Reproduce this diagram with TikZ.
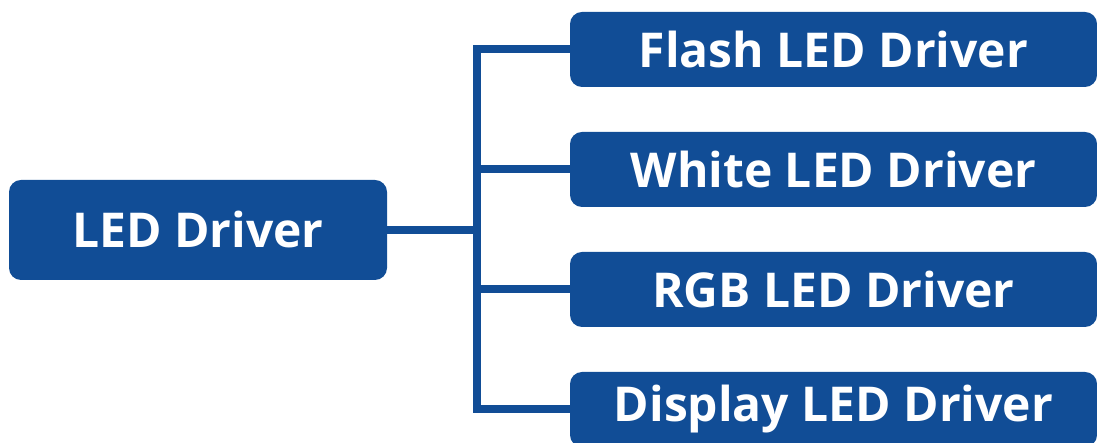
\documentclass[tikz,border=0pt]{standalone}
\usepackage{fontspec}
\setmainfont{Open Sans}
\definecolor{ledblue}{RGB}{17,77,150}
\begin{document}
\begin{tikzpicture}[x=1pt,y=1pt,
  box/.style={fill=ledblue,rounded corners=12pt,text=white,font=\fontsize{48}{50}\selectfont\bfseries,inner sep=0pt,anchor=center},
  conn/.style={draw=ledblue,line width=8pt}]
\useasboundingbox (0,0) rectangle (1097,443);
\node[box,minimum width=378pt,minimum height=100pt] (L) at (198,213) {LED Driver};
\node[box,minimum width=527pt,minimum height=75pt] (R1) at (833.5,393.5) {Flash LED Driver};
\node[box,minimum width=527pt,minimum height=75pt] (R2) at (833.5,273.5) {White LED Driver};
\node[box,minimum width=527pt,minimum height=75pt] (R3) at (833.5,153.5) {RGB LED Driver};
\node[box,minimum width=527pt,minimum height=75pt] (R4) at (833.5,33.5) {Display LED Driver};
\coordinate (jx) at (476.5,0);
\draw[conn] (R1.west) -- (jx |- R1) -- (jx |- R4) -- (R4.west);
\draw[conn] (L.east) -- (jx |- L);
\draw[conn] (jx |- R2) -- (R2.west);
\draw[conn] (jx |- R3) -- (R3.west);
\end{tikzpicture}
\end{document}
